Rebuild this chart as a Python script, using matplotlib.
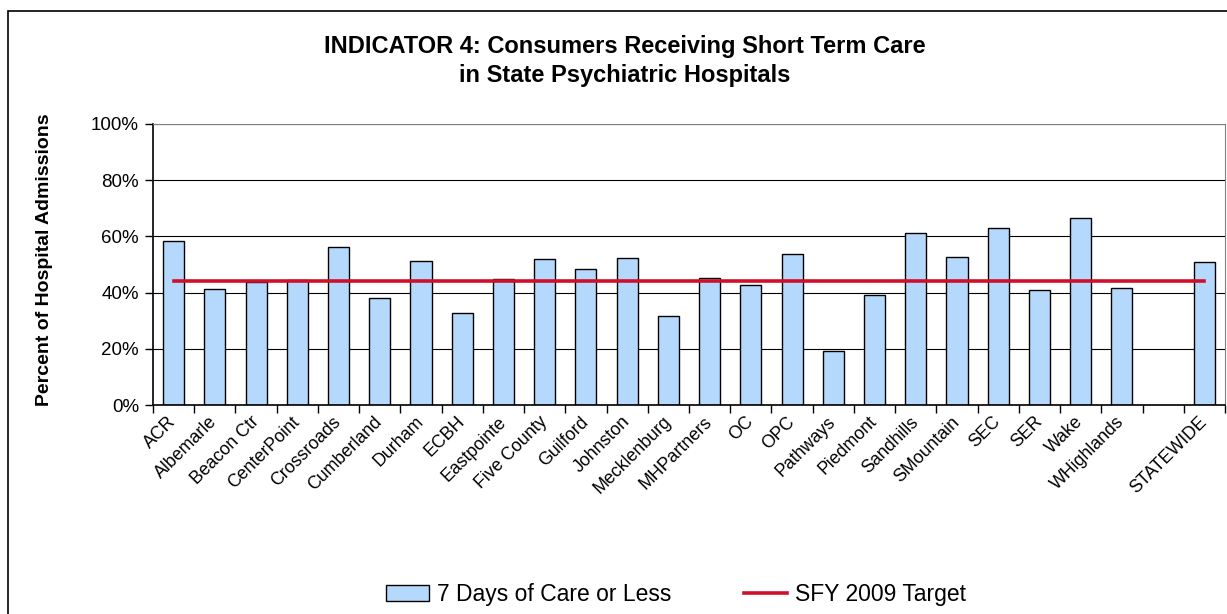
import numpy as np
import matplotlib
matplotlib.use("Agg")
import matplotlib.pyplot as plt
import matplotlib.transforms as mtransforms
from matplotlib.patches import Rectangle

plt.rcParams['font.family'] = ['Liberation Sans', 'DejaVu Sans']

# data
categories = ['ACR', 'Albemarle', 'Beacon Ctr', 'CenterPoint', 'Crossroads', 'Cumberland',
              'Durham', 'ECBH', 'Eastpointe', 'Five County', 'Guilford', 'Johnston',
              'Mecklenburg', 'MHPartners', 'OC', 'OPC', 'Pathways', 'Piedmont', 'Sandhills',
              'SMountain', 'SEC', 'SER', 'Wake', 'WHighlands', '', 'STATEWIDE']
seven_days = [58.3, 41.4, 43.7, 44.5, 56.3, 38.1, 51.4, 32.8, 44.7, 51.8, 48.5, 52.4,
              31.6, 45.3, 42.6, 53.6, 19.1, 39.3, 61.3, 52.5, 63.0, 40.9, 66.7, 41.5,
              np.nan, 50.8]
target = [44.2] * len(categories)

W, H = 1227, 614
fig = plt.figure(figsize=(W / 100, H / 100), dpi=100)
# plot area: x 153..1225, y 124..405 (pixels)
ax = fig.add_axes([153 / W, 1 - 405 / H, (1225 - 153) / W, (405 - 124) / H])

x = np.arange(len(categories))
ax.bar(x, seven_days, width=0.51, color='#b5d9fd', edgecolor='black', linewidth=1,
       label='7 Days of Care or Less', zorder=2)
ax.plot(x, target, color='#d0102a', linewidth=2.6, label='SFY 2009 Target', zorder=3)

ax.set_xlim(-0.5, len(categories) - 0.5)
ax.set_ylim(0, 100)
ax.set_yticks(np.arange(0, 101, 20))
ax.set_yticklabels([f'{v}%' for v in range(0, 101, 20)], fontsize=13.5)
ax.yaxis.grid(True, color='black', linewidth=0.8, zorder=0)
ax.set_axisbelow(True)

# category labels centred, ticks between categories
ax.set_xticks(x)
ax.set_xticklabels(categories, rotation=45, ha='right', rotation_mode='anchor', fontsize=12.8)
ax.tick_params(axis='x', length=0, pad=6)
shift = mtransforms.ScaledTranslation(-6 / 100, 0, fig.dpi_scale_trans)
for lbl in ax.get_xticklabels():
    lbl.set_transform(lbl.get_transform() + shift)
ax.set_xticks(np.arange(-0.5, len(categories), 1), minor=True)
ax.tick_params(axis='x', which='minor', length=6, width=1, color='black')
ax.tick_params(axis='y', length=6, width=1, direction='out', pad=4)

for side in ['top', 'right']:
    ax.spines[side].set_color('#808080')
for side in ['left', 'bottom']:
    ax.spines[side].set_color('black')
    ax.spines[side].set_linewidth(1.2)

fig.text(45 / W, 1 - 260 / H, 'Percent of Hospital Admissions', rotation=90,
         ha='center', va='center', fontsize=14, fontweight='bold')

fig.text(0.509, 1 - 61 / H, 'INDICATOR 4: Consumers Receiving Short Term Care\nin State Psychiatric Hospitals',
         ha='center', va='center', fontsize=17, fontweight='bold', linespacing=1.3)

handles, labels = ax.get_legend_handles_labels()
fig.legend(handles[::-1], labels[::-1], loc='center', bbox_to_anchor=(0.551, 0.031), ncol=2,
           frameon=False, fontsize=16.5, columnspacing=3.2, handlelength=1.85,
           handletextpad=0.35, handleheight=0.7)

# chart-area border (cropped at right and bottom in the reference)
fig.patches.append(Rectangle((8 / W, -0.05), 1.2, 1 - 11 / H + 0.05, transform=fig.transFigure,
                             fill=False, edgecolor='black', linewidth=1.2))

fig.savefig('out.png', dpi=100)
